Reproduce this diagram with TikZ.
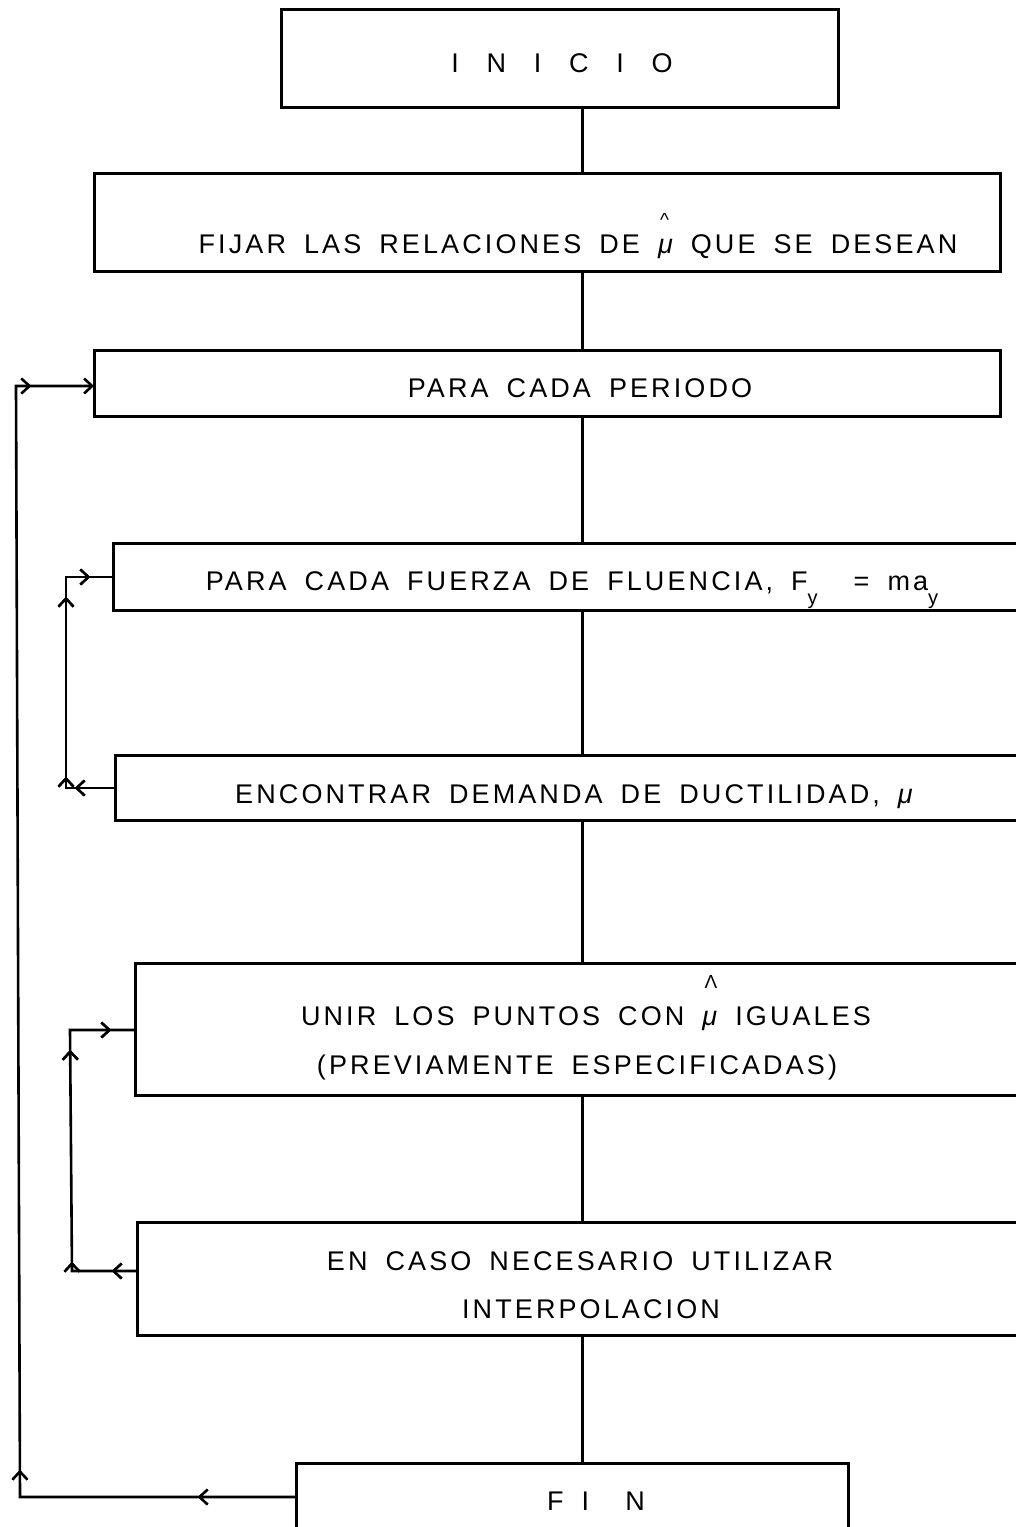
\documentclass[tikz,border=0pt]{standalone}
\usepackage{amsmath, amssymb}
\usepackage{fontspec}
\newfontfamily\plotfont[LetterSpace=11.5, WordSpace=1.7]{Liberation Sans}
\usepackage{tikz}
\usetikzlibrary{
  arrows.meta,%
  % arrows halfway along the loops
  decorations.markings,%
  calc,%
  positioning
}
\tikzset{>={Straight Barb[length=8pt, width=15pt]}}
\tikzset{
  box/.style={draw, line width=3pt, inner sep=0pt},
  txt/.style={font=\plotfont\fontsize{27}{32}\selectfont, inner sep=0pt, anchor=base},
  flow/.style={line width=3pt},
  back/.style={line width=2.6pt},
  tipat/.style={postaction={decorate}, decoration={markings,
      mark=at position #1 with {\arrow[line width=2.2pt]{>}}}}
}
\newcommand{\suby}{\raisebox{-0.55em}{\fontsize{20}{24}\selectfont y}}
\newcommand{\mumu}{{\itshape μ}}
\newcommand{\wgap}{\ \hspace{0.36em}}
% mu with a mark above it, raised by #1
\newcommand{\capmu}[2]{\leavevmode\rlap{\hspace{0.08em}\raisebox{#1}{\fontsize{19}{20}\selectfont #2}}\mumu}

\begin{document}
\begin{tikzpicture}[x=1pt, y=-1pt]
  \useasboundingbox (0, 0) rectangle (1016, 1527);
  % boxes of the chart
  \node[box, minimum width=557, minimum height=98] (inicio) at (559.5, 58) {};
  \node[box, minimum width=906, minimum height=98] (fijar) at (547, 222) {};
  \node[box, minimum width=906, minimum height=66] (periodo) at (547, 383) {};
  \node[box, minimum width=918, minimum height=67] (fuerza) at (572, 576.5) {};
  \node[box, minimum width=918, minimum height=65] (encontrar) at (574, 787.5) {};
  \node[box, minimum width=902, minimum height=132] (unir) at (586, 1029) {};
  \node[box, minimum width=886, minimum height=113] (encaso) at (580, 1278.5) {};
  \node[box, minimum width=552, minimum height=82] (fin) at (572, 1504) {};
  % texts
  \node[txt] (tinicio) at (562, 72) {I\wgap N\wgap I\wgap C\wgap I\wgap O};
  \node[txt] (tfijar) at (578, 253) {FIJAR LAS RELACIONES DE \capmu{1.0em}{\textasciicircum} QUE SE DESEAN};
  \node[txt] (tperiodo) at (580, 397) {PARA CADA PERIODO};
  \node[txt] (tfuerza) at (572, 590) {PARA CADA FUERZA DE FLUENCIA, F\suby\ \ = ma\suby};
  \node[txt] (tencontrar) at (574, 803) {ENCONTRAR DEMANDA DE DUCTILIDAD, \mumu};
  \node[txt] (tunir) at (586, 1025) {UNIR LOS PUNTOS CON \capmu{1.35em}{Λ} IGUALES};
  \node[txt] (tprevia) at (577, 1074) {(PREVIAMENTE ESPECIFICADAS)};
  \node[txt] (tencaso) at (580, 1270) {EN CASO NECESARIO UTILIZAR};
  \node[txt] (tinterp) at (591, 1318) {INTERPOLACION};
  \node[txt] (tfin) at (596, 1510) {F\ I\ \ N};
  % main line
  \coordinate (spine) at (582, 0); %
  \draw[flow] (spine |- inicio.south) -- (spine |- fijar.north); %
  \draw[flow] (spine |- fijar.south) -- (spine |- periodo.north); %
  \draw[flow] (spine |- periodo.south) -- (spine |- fuerza.north); %
  \draw[flow] (spine |- fuerza.south) -- (spine |- encontrar.north); %
  \draw[flow] (spine |- encontrar.south) -- (spine |- unir.north); %
  \draw[flow] (spine |- unir.south) -- (spine |- encaso.north); %
  \draw[flow] (spine |- encaso.south) -- (spine |- fin.north); %
  % loop over the periods
  \coordinate (finOut) at (296, 1497); %
  \coordinate (oBot) at (20, 1497); \coordinate (oTop) at (16, 386); %
  \coordinate (perIn) at (94, 386); %
  \draw[back, ->, tipat=98pt, tipat=303pt, tipat=1402pt] (finOut) -- (oBot) -- (oTop) -- (perIn); %
  % loop over the yield forces
  \coordinate (encOut) at (115, 788); %
  \coordinate (fBot) at (66, 788); \coordinate (fTop) at (66, 577); %
  \coordinate (fueIn) at (113, 577); %
  \draw[back, tipat=40pt, tipat=60pt, tipat=240pt, tipat=284pt] (encOut) -- (fBot) -- (fTop) -- (fueIn); %
  % joining the points
  \coordinate (casOut) at (137, 1271); %
  \coordinate (uBot) at (72, 1271); \coordinate (uTop) at (70, 1030); %
  \coordinate (uniIn) at (135, 1030); %
  \draw[back, tipat=25pt, tipat=74pt, tipat=286pt, tipat=347pt] (casOut) -- (uBot) -- (uTop) -- (uniIn); %
\end{tikzpicture}
\end{document}
